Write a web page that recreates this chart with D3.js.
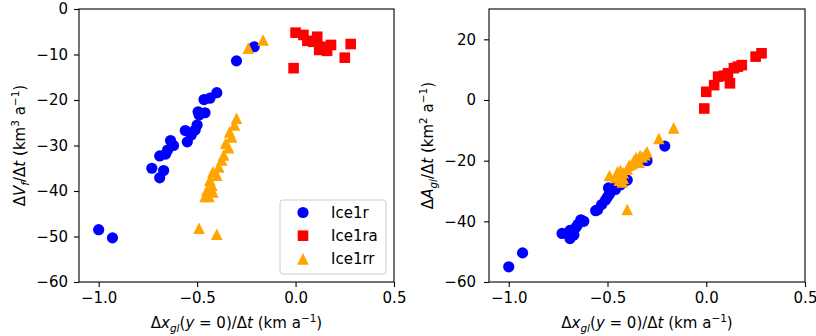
<!doctype html>
<html>
<head>
<meta charset="utf-8">
<title>Grounding line change</title>
<script src="https://cdn.jsdelivr.net/npm/d3@7"></script>
<style>
  body { margin: 0; background: #fff; }
  svg text { font-family: "DejaVu Sans", sans-serif; fill: #000; white-space: pre; }
</style>
</head>
<body>
<script>
// series names and colours
var seriesNames = ["Ice1r", "Ice1ra", "Ice1rr"];
var seriesColors = ["#0000ff", "#ff0000", "#ffa500"];
var seriesShapes = ["circle", "square", "triangle"];

// Ice1r
var ice1rX    = [-1.00, -0.93, -0.73, -0.69, -0.67, -0.69, -0.66, -0.65, -0.635, -0.62, -0.56, -0.55, -0.53, -0.51, -0.50, -0.495, -0.49, -0.46, -0.465, -0.435, -0.40, -0.30, -0.21];
var ice1rVol  = [-48.5, -50.3, -35.0, -37.1, -35.5, -32.3, -31.9, -31.0, -28.9, -30.0, -26.7, -29.2, -27.7, -26.6, -25.5, -22.6, -23.3, -22.8, -19.9, -19.6, -18.4, -11.4, -8.3];
var ice1rArea = [-55.0, -50.4, -44.0, -45.7, -44.5, -43.0, -42.0, -41.0, -39.5, -40.0, -36.5, -36.2, -34.5, -33.0, -32.0, -29.0, -31.0, -29.5, -29.0, -28.0, -26.4, -20.0, -15.2];

// Ice1ra
var ice1raX    = [-0.01, 0.00, 0.04, 0.06, 0.09, 0.11, 0.12, 0.14, 0.16, 0.18, 0.25, 0.28];
var ice1raVol  = [-13.0, -5.2, -5.7, -7.0, -7.2, -6.1, -9.0, -8.3, -9.2, -7.9, -10.7, -7.7];
var ice1raArea = [-2.8, 2.7, 4.9, 7.7, 8.0, 8.8, 5.5, 10.5, 11.0, 11.5, 14.3, 15.4];

// Ice1rr
var ice1rrX    = [-0.49, -0.46, -0.45, -0.44, -0.435, -0.425, -0.42, -0.42, -0.40, -0.40, -0.39, -0.375, -0.365, -0.355, -0.34, -0.335, -0.325, -0.31, -0.30, -0.24, -0.165];
var ice1rrVol  = [-48.2, -41.2, -39.8, -41.2, -37.6, -38.7, -35.8, -40.2, -49.5, -36.5, -34.7, -33.2, -32.1, -29.5, -30.5, -27.0, -28.1, -25.5, -24.0, -8.6, -6.8];
var ice1rrArea = [-24.9, -25.5, -23.7, -26.4, -23.2, -27.0, -24.0, -25.8, -36.1, -22.7, -21.5, -21.0, -19.9, -19.0, -20.5, -18.3, -18.8, -18.0, -17.1, -12.7, -9.2];

var seriesX = [ice1rX, ice1raX, ice1rrX];
var seriesVol = [ice1rVol, ice1raVol, ice1rrVol];
var seriesArea = [ice1rArea, ice1raArea, ice1rrArea];

// ticks
var xTicks = [-1.0, -0.5, 0.0, 0.5];
var volTicks = [-60, -50, -40, -30, -20, -10, 0];
var areaTicks = [-60, -40, -20, 0, 20];

var width = 816, height = 336, fs = 15;
var plotTop = 9, plotBottom = 282;

var svg = d3.select("body").append("svg")
  .attr("width", width).attr("height", height);

function richText(sel, parts) {
  var shift = 0;
  parts.forEach(function (p) {
    var target = p.sub ? fs * 0.25 : p.sup ? -fs * 0.4 : 0;
    var ts = sel.append("tspan").text(p.t).attr("dy", target - shift);
    if (p.i) ts.attr("font-style", "italic");
    if (p.sub || p.sup) ts.attr("font-size", fs * 0.7);
    shift = target;
  });
}

var xLabel = [{t: "Δ"}, {t: "x", i: 1}, {t: "gl", i: 1, sub: 1}, {t: "("}, {t: "y", i: 1},
  {t: " = 0)/Δ"}, {t: "t", i: 1}, {t: " (km a"}, {t: "−1", sup: 1}, {t: ")"}];

var panels = [
  {left: 79, right: 394, lo: -60, hi: 0, ticks: volTicks, vals: seriesVol, labX: 25, pad: 6, legend: true,
   yLabel: [{t: "Δ"}, {t: "V", i: 1}, {t: "f", i: 1, sub: 1}, {t: "/Δ"}, {t: "t", i: 1}, {t: " (km"},
            {t: "3", sup: 1}, {t: " a"}, {t: "−1", sup: 1}, {t: ")"}]},
  {left: 489, right: 805, lo: -60, hi: 30, ticks: areaTicks, vals: seriesArea, labX: 433, pad: 8, legend: false,
   yLabel: [{t: "Δ"}, {t: "A", i: 1}, {t: "gl", i: 1, sub: 1}, {t: "/Δ"}, {t: "t", i: 1}, {t: " (km"},
            {t: "2", sup: 1}, {t: " a"}, {t: "−1", sup: 1}, {t: ")"}]}
];

function drawMarker(g, shape, cx, cy, color) {
  if (shape === "circle") {
    g.append("circle").attr("cx", cx).attr("cy", cy).attr("r", 5.6).attr("fill", color);
  } else if (shape === "square") {
    g.append("rect").attr("x", cx - 5.3).attr("y", cy - 5.3).attr("width", 10.6).attr("height", 10.6).attr("fill", color);
  } else {
    var h = 5.8;
    g.append("path").attr("d", "M" + cx + "," + (cy - h) + "L" + (cx - h) + "," + (cy + h) + "L" + (cx + h) + "," + (cy + h) + "Z")
      .attr("fill", color);
  }
}

panels.forEach(function (p) {
  var x = d3.scaleLinear().domain([-1.1, 0.5]).range([p.left, p.right]);
  var y = d3.scaleLinear().domain([p.lo, p.hi]).range([plotBottom, plotTop]);

  var xAxis = svg.append("g").attr("transform", "translate(0," + plotBottom + ")")
    .call(d3.axisBottom(x).tickValues(xTicks).tickFormat(d3.format(".1f")).tickSize(5).tickPadding(5).tickSizeOuter(0));
  var yAxis = svg.append("g").attr("transform", "translate(" + p.left + ",0)")
    .call(d3.axisLeft(y).tickValues(p.ticks).tickFormat(d3.format("d")).tickSize(5).tickPadding(p.pad).tickSizeOuter(0));
  [xAxis, yAxis].forEach(function (a) {
    a.attr("font-size", fs).attr("font-family", null);
    a.select(".domain").remove();
    a.selectAll("line").attr("stroke", "#000").attr("stroke-width", 1.1);
  });

  var g = svg.append("g");
  seriesNames.forEach(function (name, k) {
    seriesX[k].forEach(function (xv, i) {
      drawMarker(g, seriesShapes[k], x(xv), y(p.vals[k][i]), seriesColors[k]);
    });
  });

  svg.append("rect").attr("x", p.left).attr("y", plotTop)
    .attr("width", p.right - p.left).attr("height", plotBottom - plotTop)
    .attr("fill", "none").attr("stroke", "#000").attr("stroke-width", 1.1);

  var xl = svg.append("text").attr("x", (p.left + p.right) / 2).attr("y", 328)
    .attr("text-anchor", "middle").attr("font-size", fs);
  richText(xl, xLabel);

  var yl = svg.append("text").attr("transform", "translate(" + p.labX + "," + (plotTop + plotBottom) / 2 + ") rotate(-90)")
    .attr("text-anchor", "middle").attr("font-size", fs);
  richText(yl, p.yLabel);

  if (p.legend) {
    var lg = svg.append("g");
    lg.append("rect").attr("x", 280).attr("y", 200).attr("width", 106).attr("height", 74).attr("rx", 3)
      .attr("fill", "#fff").attr("fill-opacity", 0.8).attr("stroke", "#cccccc");
    seriesNames.forEach(function (name, k) {
      var ly = 212.5 + k * 23.2;
      drawMarker(lg, seriesShapes[k], 303, ly, seriesColors[k]);
      lg.append("text").attr("x", 331).attr("y", ly).attr("dy", "0.36em").attr("font-size", fs).text(name);
    });
  }
});
</script>
</body>
</html>
